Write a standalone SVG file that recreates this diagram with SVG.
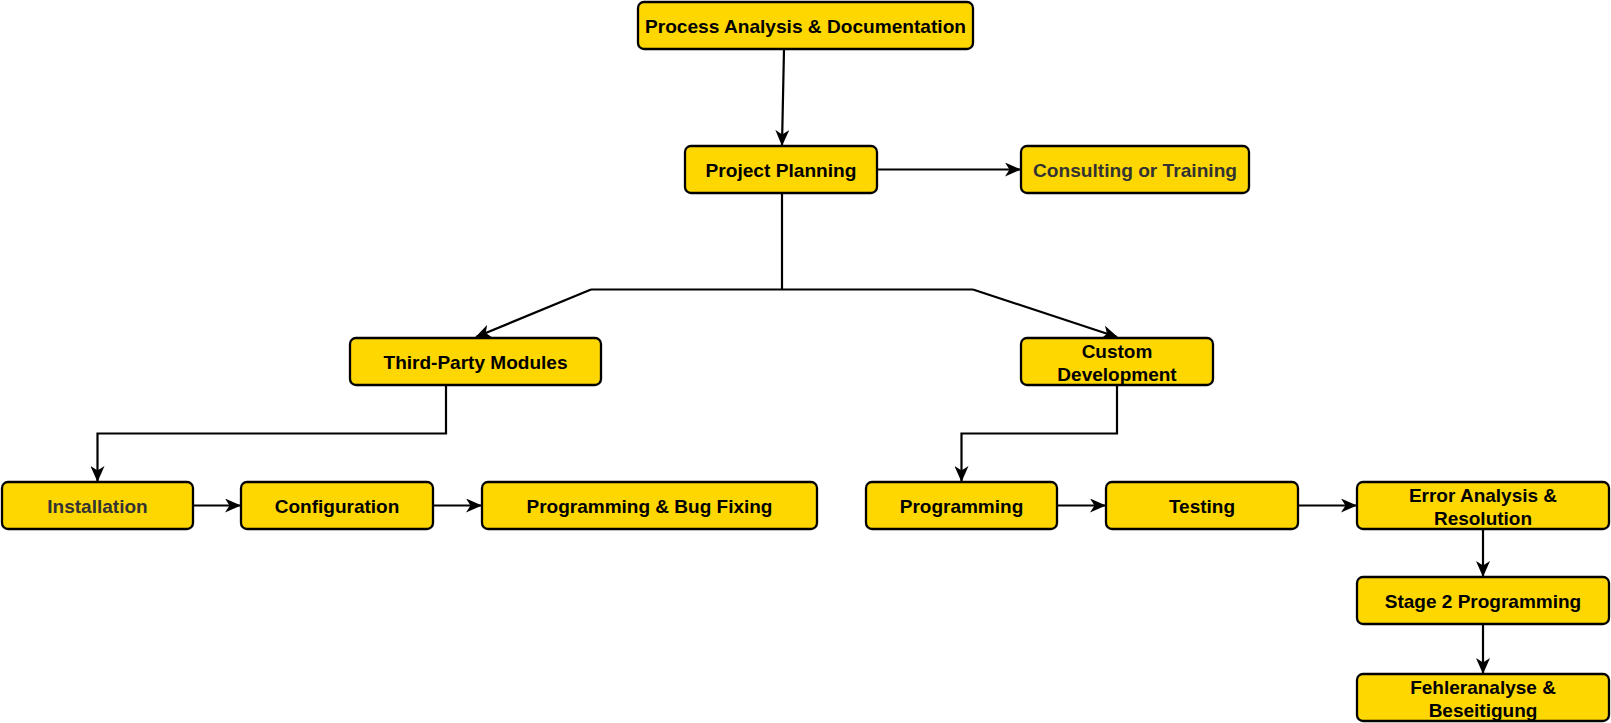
<svg xmlns="http://www.w3.org/2000/svg" width="1611" height="723" viewBox="0 0 1611 723">
<defs>
<style>
.box{fill:#FFD700;stroke:#000;stroke-width:2.3}
.t{font-family:"Liberation Sans",Arial,sans-serif;font-weight:bold;font-size:19px;fill:#000;text-anchor:middle}
.g{fill:#333}
.c{fill:none;stroke:#000;stroke-width:2.2}
</style>
<marker id="arr" viewBox="0 0 16 14" refX="15" refY="7" markerWidth="16" markerHeight="14" markerUnits="userSpaceOnUse" orient="auto">
<path d="M0,0 L16,7 L0,14 L4.5,7 Z" fill="#000"/>
</marker>
</defs>
<rect width="1611" height="723" fill="#fff"/>
<g id="connectors">
<path class="c" d="M784,49 L782,145" marker-end="url(#arr)"/>
<path class="c" d="M877,169.5 L1020,169.5" marker-end="url(#arr)"/>
<path class="c" d="M782,193 L782,289.5"/>
<path class="c" d="M591,289.5 L973,289.5"/>
<path class="c" d="M591,289.5 L476,337" marker-end="url(#arr)"/>
<path class="c" d="M973,289.5 L1117,337" marker-end="url(#arr)"/>
<path class="c" d="M446,385 L446,433.5 L97.5,433.5 L97.5,481" marker-end="url(#arr)"/>
<path class="c" d="M1117,385 L1117,433.5 L961.5,433.5 L961.5,481" marker-end="url(#arr)"/>
<path class="c" d="M193,505.5 L240,505.5" marker-end="url(#arr)"/>
<path class="c" d="M433,505.5 L481,505.5" marker-end="url(#arr)"/>
<path class="c" d="M1057,505.5 L1105,505.5" marker-end="url(#arr)"/>
<path class="c" d="M1298,505.5 L1356,505.5" marker-end="url(#arr)"/>
<path class="c" d="M1483,529 L1483,576" marker-end="url(#arr)"/>
<path class="c" d="M1483,624 L1483,673" marker-end="url(#arr)"/>
</g>
<g id="n-process"><rect class="box" x="638" y="2" width="335" height="47" rx="6"/><text class="t" x="805.5" y="32.5" textLength="321" lengthAdjust="spacingAndGlyphs">Process Analysis &amp; Documentation</text></g>
<g id="n-planning"><rect class="box" x="685" y="146" width="192" height="47" rx="6"/><text class="t" x="781" y="176.5" textLength="151" lengthAdjust="spacingAndGlyphs">Project Planning</text></g>
<g id="n-consulting"><rect class="box" x="1021" y="146" width="228" height="47" rx="6"/><text class="t g" x="1135" y="176.5" textLength="204" lengthAdjust="spacingAndGlyphs">Consulting or Training</text></g>
<g id="n-thirdparty"><rect class="box" x="350" y="338" width="251" height="47" rx="6"/><text class="t" x="475.5" y="368.5" textLength="184" lengthAdjust="spacingAndGlyphs">Third-Party Modules</text></g>
<g id="n-custom"><rect class="box" x="1021" y="338" width="192" height="47" rx="6"/><text class="t" x="1117" y="357.5">Custom</text><text class="t" x="1117" y="381">Development</text></g>
<g id="n-installation"><rect class="box" x="2" y="482" width="191" height="47" rx="6"/><text class="t g" x="97.5" y="512.5">Installation</text></g>
<g id="n-configuration"><rect class="box" x="241" y="482" width="192" height="47" rx="6"/><text class="t" x="337" y="512.5">Configuration</text></g>
<g id="n-progbug"><rect class="box" x="482" y="482" width="335" height="47" rx="6"/><text class="t" x="649.5" y="512.5">Programming &amp; Bug Fixing</text></g>
<g id="n-programming"><rect class="box" x="866" y="482" width="191" height="47" rx="6"/><text class="t" x="961.5" y="512.5">Programming</text></g>
<g id="n-testing"><rect class="box" x="1106" y="482" width="192" height="47" rx="6"/><text class="t" x="1202" y="512.5">Testing</text></g>
<g id="n-error"><rect class="box" x="1357" y="482" width="252" height="47" rx="6"/><text class="t" x="1483" y="501.5">Error Analysis &amp;</text><text class="t" x="1483" y="525">Resolution</text></g>
<g id="n-stage2"><rect class="box" x="1357" y="577" width="252" height="47" rx="6"/><text class="t" x="1483" y="607.5">Stage 2 Programming</text></g>
<g id="n-fehler"><rect class="box" x="1357" y="674" width="252" height="47" rx="6"/><text class="t" x="1483" y="693.5">Fehleranalyse &amp;</text><text class="t" x="1483" y="717">Beseitigung</text></g>
</svg>
